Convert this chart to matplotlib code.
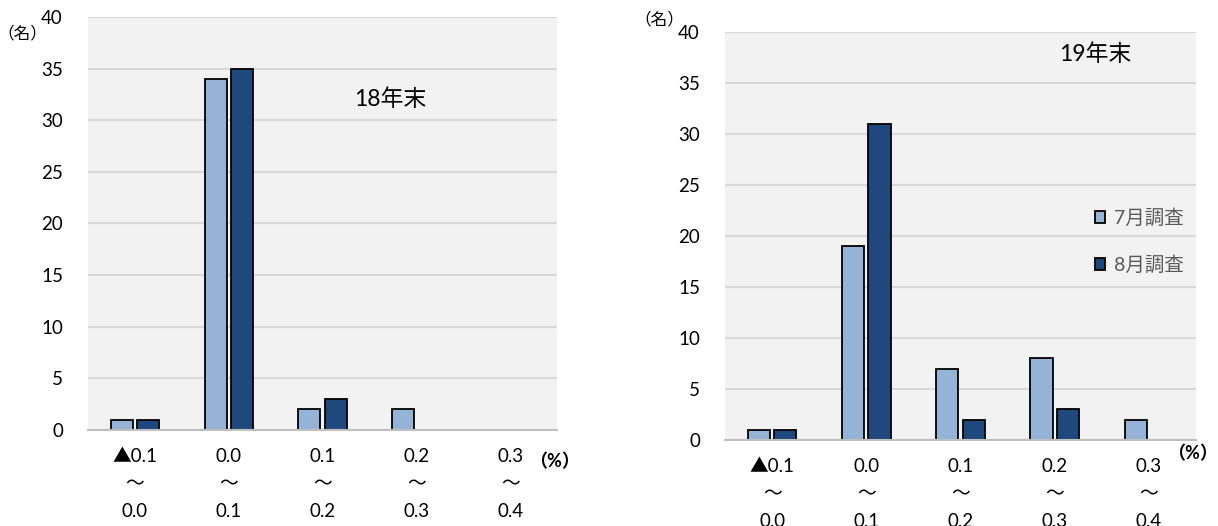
import matplotlib.pyplot as plt
import numpy as np

plt.rcParams['font.family'] = ['Lato', 'Noto Sans CJK JP', 'DejaVu Sans']

# 分布（名）: 前年比レンジ別の人数
ranges = ['▲0.1\n～\n0.0', '0.0\n～\n0.1', '0.1\n～\n0.2', '0.2\n～\n0.3', '0.3\n～\n0.4']
jul_18 = [1, 34, 2, 2, 0]
aug_18 = [1, 35, 3, 0, 0]
jul_19 = [1, 19, 7, 8, 2]
aug_19 = [1, 31, 2, 3, 0]
series_names = ['7月調査', '8月調査']

LIGHT = '#95B3D7'
DARK = '#1F497D'

W, H = 1218, 526
fig = plt.figure(figsize=(W / 100, H / 100), dpi=100)


def px_axes(x0, y_top, x1, y_bot):
    return fig.add_axes([x0 / W, (H - y_bot) / H, (x1 - x0) / W, (y_bot - y_top) / H])


def draw_panel(ax, jul, aug, title, title_xy):
    x = np.arange(len(ranges))
    jul = np.asarray(jul)
    aug = np.asarray(aug)
    bw, off = 0.235, 0.14
    m = jul > 0
    ax.bar(x[m] - off, jul[m], bw, color=LIGHT, edgecolor='black', linewidth=1.3,
           label=series_names[0], zorder=3)
    m = aug > 0
    ax.bar(x[m] + off, aug[m], bw, color=DARK, edgecolor='black', linewidth=1.3,
           label=series_names[1], zorder=3)
    ax.set_facecolor('#F2F2F2')
    ax.set_xlim(-0.5, len(ranges) - 0.5)
    ax.set_ylim(0, 40)
    ax.set_yticks(np.arange(0, 41, 5))
    ax.grid(axis='y', color='#D9D9D9', linewidth=1.5, zorder=0)
    ax.set_axisbelow(True)
    for s in ['top', 'right', 'left']:
        ax.spines[s].set_visible(False)
    ax.spines['bottom'].set_color('#BFBFBF')
    ax.spines['bottom'].set_linewidth(1.5)
    ax.spines['bottom'].set_zorder(4)
    ax.set_xticks(x)
    ax.set_xticklabels(ranges, linespacing=1.75, fontsize=13.5)
    ax.tick_params(axis='both', length=0, labelsize=13.5)
    ax.tick_params(axis='x', pad=13)
    ax.tick_params(axis='y', pad=18)
    ax.text(title_xy[0], title_xy[1], title, transform=ax.transAxes,
            ha='center', va='center', fontsize=16.5)


ax1 = px_axes(88, 17, 557, 430)
draw_panel(ax1, jul_18, aug_18, '18年末', (0.645, 0.8))
fig.text(22 / W, 1 - 33 / H, '（名）', ha='center', va='center', fontsize=12)
fig.text(554 / W, 1 - 462 / H, '（%）', ha='center', va='center', fontsize=13,
         fontweight='bold')

ax2 = px_axes(725, 32, 1196, 440)
draw_panel(ax2, jul_19, aug_19, '19年末', (0.785, 0.945))
fig.text(659 / W, 1 - 19 / H, '（名）', ha='center', va='center', fontsize=12)
fig.text(1192 / W, 1 - 454 / H, '（%）', ha='center', va='center', fontsize=13,
         fontweight='bold')

ax2.legend(loc='upper left', bbox_to_anchor=(1077 / W, 1 - 191 / H),
           bbox_transform=fig.transFigure, frameon=False, fontsize=14,
           handlelength=0.55, handleheight=0.55, handletextpad=0.45,
           labelspacing=1.45, labelcolor='#595959')

fig.savefig('out.png', dpi=100, facecolor='white')
